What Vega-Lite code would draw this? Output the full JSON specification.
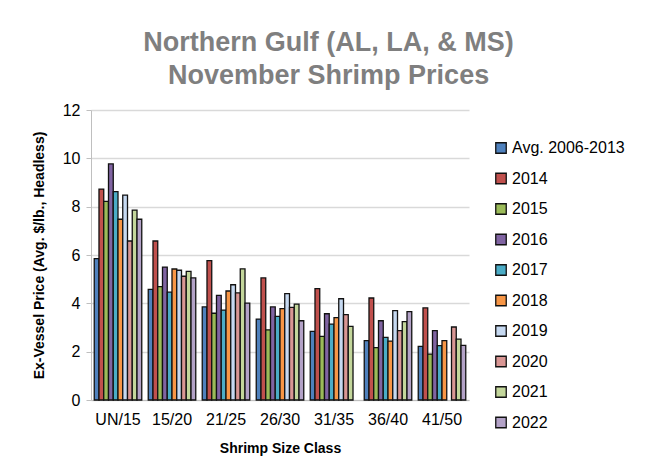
{
  "$schema": "https://vega.github.io/schema/vega-lite/v6.json",
  "width": 378,
  "height": 290,
  "padding": {"left": 32, "top": 29, "right": 10, "bottom": 10},
  "background": "white",
  "title": {
    "text": ["Northern Gulf (AL, LA, & MS)", "November Shrimp Prices"],
    "font": "Liberation Sans",
    "fontSize": 27,
    "fontWeight": "bold",
    "color": "#7f7f7f",
    "lineHeight": 33,
    "anchor": "middle",
    "frame": "bounds",
    "offset": 12
  },
  "data": {
    "values": [
      {"size": "UN/15", "year": "Avg. 2006-2013", "price": 5.85},
      {"size": "UN/15", "year": "2014", "price": 8.73},
      {"size": "UN/15", "year": "2015", "price": 8.22},
      {"size": "UN/15", "year": "2016", "price": 9.77},
      {"size": "UN/15", "year": "2017", "price": 8.62},
      {"size": "UN/15", "year": "2018", "price": 7.48},
      {"size": "UN/15", "year": "2019", "price": 8.48},
      {"size": "UN/15", "year": "2020", "price": 6.58},
      {"size": "UN/15", "year": "2021", "price": 7.86},
      {"size": "UN/15", "year": "2022", "price": 7.48},
      {"size": "15/20", "year": "Avg. 2006-2013", "price": 4.58},
      {"size": "15/20", "year": "2014", "price": 6.58},
      {"size": "15/20", "year": "2015", "price": 4.69},
      {"size": "15/20", "year": "2016", "price": 5.5},
      {"size": "15/20", "year": "2017", "price": 4.46},
      {"size": "15/20", "year": "2018", "price": 5.42},
      {"size": "15/20", "year": "2019", "price": 5.37},
      {"size": "15/20", "year": "2020", "price": 5.12},
      {"size": "15/20", "year": "2021", "price": 5.32},
      {"size": "15/20", "year": "2022", "price": 5.05},
      {"size": "21/25", "year": "Avg. 2006-2013", "price": 3.85},
      {"size": "21/25", "year": "2014", "price": 5.77},
      {"size": "21/25", "year": "2015", "price": 3.59},
      {"size": "21/25", "year": "2016", "price": 4.33},
      {"size": "21/25", "year": "2017", "price": 3.72},
      {"size": "21/25", "year": "2018", "price": 4.51},
      {"size": "21/25", "year": "2019", "price": 4.77},
      {"size": "21/25", "year": "2020", "price": 4.43},
      {"size": "21/25", "year": "2021", "price": 5.43},
      {"size": "21/25", "year": "2022", "price": 4.01},
      {"size": "26/30", "year": "Avg. 2006-2013", "price": 3.35},
      {"size": "26/30", "year": "2014", "price": 5.05},
      {"size": "26/30", "year": "2015", "price": 2.9},
      {"size": "26/30", "year": "2016", "price": 3.85},
      {"size": "26/30", "year": "2017", "price": 3.46},
      {"size": "26/30", "year": "2018", "price": 3.78},
      {"size": "26/30", "year": "2019", "price": 4.4},
      {"size": "26/30", "year": "2020", "price": 3.83},
      {"size": "26/30", "year": "2021", "price": 3.97},
      {"size": "26/30", "year": "2022", "price": 3.28},
      {"size": "31/35", "year": "Avg. 2006-2013", "price": 2.84},
      {"size": "31/35", "year": "2014", "price": 4.61},
      {"size": "31/35", "year": "2015", "price": 2.63},
      {"size": "31/35", "year": "2016", "price": 3.57},
      {"size": "31/35", "year": "2017", "price": 3.14},
      {"size": "31/35", "year": "2018", "price": 3.41},
      {"size": "31/35", "year": "2019", "price": 4.19},
      {"size": "31/35", "year": "2020", "price": 3.53},
      {"size": "31/35", "year": "2021", "price": 3.05},
      {"size": "36/40", "year": "Avg. 2006-2013", "price": 2.46},
      {"size": "36/40", "year": "2014", "price": 4.22},
      {"size": "36/40", "year": "2015", "price": 2.17},
      {"size": "36/40", "year": "2016", "price": 3.28},
      {"size": "36/40", "year": "2017", "price": 2.59},
      {"size": "36/40", "year": "2018", "price": 2.44},
      {"size": "36/40", "year": "2019", "price": 3.7},
      {"size": "36/40", "year": "2020", "price": 2.87},
      {"size": "36/40", "year": "2021", "price": 3.24},
      {"size": "36/40", "year": "2022", "price": 3.66},
      {"size": "41/50", "year": "Avg. 2006-2013", "price": 2.22},
      {"size": "41/50", "year": "2014", "price": 3.81},
      {"size": "41/50", "year": "2015", "price": 1.9},
      {"size": "41/50", "year": "2016", "price": 2.87},
      {"size": "41/50", "year": "2017", "price": 2.25},
      {"size": "41/50", "year": "2018", "price": 2.46},
      {"size": "41/50", "year": "2020", "price": 3.02},
      {"size": "41/50", "year": "2021", "price": 2.52},
      {"size": "41/50", "year": "2022", "price": 2.26}
    ]
  },
  "mark": {"type": "bar", "stroke": "#111111", "strokeWidth": 1.3},
  "encoding": {
    "x": {
      "field": "size",
      "type": "nominal",
      "sort": ["UN/15", "15/20", "21/25", "26/30", "31/35", "36/40", "41/50"],
      "scale": {"paddingInner": 0.12, "paddingOuter": 0.06},
      "axis": {
        "title": "Shrimp Size Class",
        "labelAngle": 0,
        "labelFont": "Liberation Sans",
        "labelFontSize": 16,
        "labelColor": "#000000",
        "labelPadding": 11,
        "titleFont": "Liberation Sans",
        "titleFontSize": 14,
        "titleFontWeight": "bold",
        "titleColor": "#000000",
        "titlePadding": 14,
        "ticks": false,
        "domainColor": "#bfbfbf",
        "grid": false
      }
    },
    "xOffset": {
      "field": "year",
      "type": "nominal",
      "sort": ["Avg. 2006-2013", "2014", "2015", "2016", "2017", "2018", "2019", "2020", "2021", "2022"],
      "scale": {"paddingInner": 0, "paddingOuter": 0}
    },
    "y": {
      "field": "price",
      "type": "quantitative",
      "scale": {"domain": [0, 12]},
      "axis": {
        "title": "Ex-Vessel Price (Avg. $/lb., Headless)",
        "values": [0, 2, 4, 6, 8, 10, 12],
        "labelFont": "Liberation Sans",
        "labelFontSize": 16,
        "labelColor": "#000000",
        "labelPadding": 6,
        "titleFont": "Liberation Sans",
        "titleFontSize": 14,
        "titleFontWeight": "bold",
        "titleColor": "#000000",
        "titlePadding": 16,
        "tickColor": "#bfbfbf",
        "tickSize": 5,
        "domainColor": "#bfbfbf",
        "gridColor": "#d9d9d9",
        "gridWidth": 1.5
      }
    },
    "color": {
      "field": "year",
      "type": "nominal",
      "sort": ["Avg. 2006-2013", "2014", "2015", "2016", "2017", "2018", "2019", "2020", "2021", "2022"],
      "scale": {
        "domain": ["Avg. 2006-2013", "2014", "2015", "2016", "2017", "2018", "2019", "2020", "2021", "2022"],
        "range": ["#4F81BD", "#C0504D", "#9BBB59", "#8064A2", "#4BACC6", "#F79646", "#C6D9F1", "#D99694", "#C3D69B", "#B3A2C7"]
      },
      "legend": {
        "title": null,
        "orient": "none",
        "legendX": 402,
        "legendY": 30,
        "symbolType": "square",
        "symbolSize": 110,
        "symbolStrokeColor": "#111111",
        "symbolStrokeWidth": 1.3,
        "labelFont": "Liberation Sans",
        "labelFontSize": 16,
        "labelColor": "#000000",
        "rowPadding": 14.5,
        "labelOffset": 3,
        "padding": 0
      }
    }
  },
  "config": {
    "view": {"stroke": null},
    "legend": {"symbolOpacity": 1}
  }
}
